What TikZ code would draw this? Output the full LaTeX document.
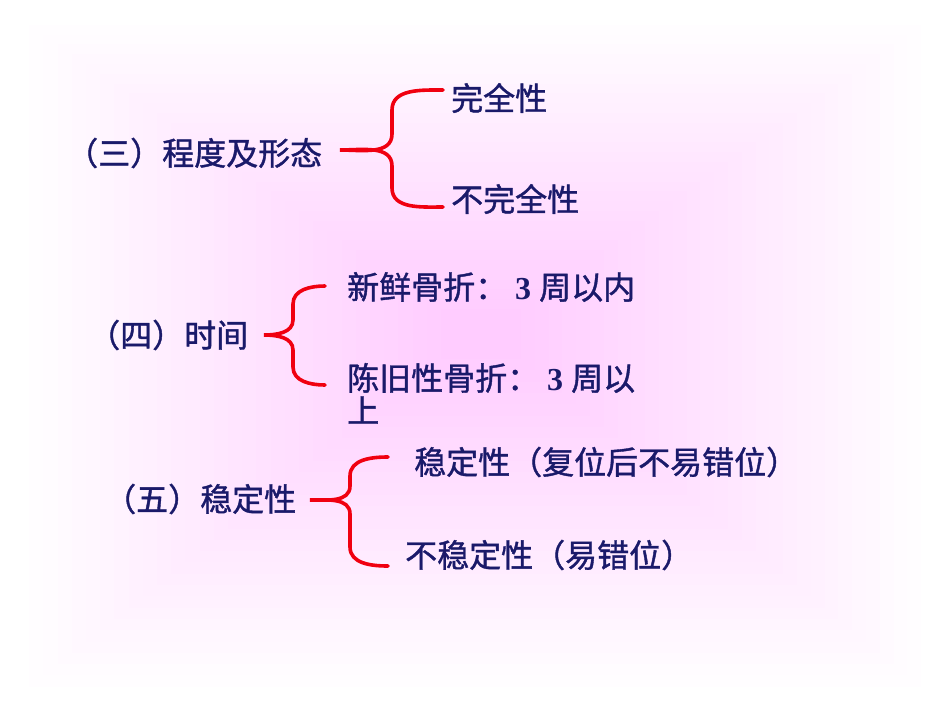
\documentclass[tikz,border=0pt]{standalone}
\usepackage{fontspec}
\newfontfamily\cjk[FakeBold=1.2]{Noto Sans CJK SC}
\newfontfamily\numf{Liberation Serif}
\definecolor{pinkc}{HTML}{FFCCFF}
\definecolor{navy}{HTML}{1A1A6A}
\definecolor{bracered}{HTML}{F00010}
\begin{document}
\begin{tikzpicture}[x=1pt,y=-1pt,
  lbl/.style={font=\cjk\fontsize{32}{34}\selectfont, text=navy, inner sep=0pt, anchor=west},
  brace/.style={draw=bracered, line width=3.6pt, line cap=round}]
\useasboundingbox (0,0) rectangle (950,713);
\fill[white] (0,0) rectangle (950,713);
\foreach \i in {0,...,30}{
  \pgfmathsetmacro{\pc}{\i/30*100}
  \fill[pinkc!\pc!white] ({15+\i*14.2},{15+\i*9.8}) rectangle ({935-\i*13.8},{698-\i*11.3});
}
% group 3
\node[lbl] (g3) at (66,153) {（三）程度及形态};
\node[lbl] (a1) at (451,98) {完全性};
\node[lbl] (a2) at (451,199) {不完全性};
\coordinate (t3) at (340,150);
\draw[brace] (443,90) to[out=180,in=90] (392,110) -- (392,134) to[out=-90,in=0] (t3)
  to[out=0,in=90] (392,166) -- (392,188) to[out=-90,in=180] (443,207);
% group 4
\node[lbl] (g4) at (88,335) {（四）时间};
\node[lbl] (b1) at (347,287) {新鲜骨折：{\numf\bfseries\ 3\ }周以内};
\node[lbl] (b2) at (347,378) {陈旧性骨折：{\numf\bfseries\ 3\ }周以};
\node[lbl] (b3) at (347,410) {上};
\coordinate (t4) at (264,335);
\draw[brace] (325,286) to[out=180,in=90] (293,304) -- (293,320) to[out=-90,in=0] (t4)
  to[out=0,in=90] (293,350) -- (293,367) to[out=-90,in=180] (325,385);
% group 5
\node[lbl] (g5) at (104,499) {（五）稳定性};
\node[lbl] (c1) at (414,462) {稳定性（复位后不易错位）};
\node[lbl] (c2) at (405,555) {不稳定性（易错位）};
\coordinate (t5) at (310,500);
\draw[brace] (388,457) to[out=180,in=90] (350,476) -- (350,486) to[out=-90,in=0] (t5)
  to[out=0,in=90] (350,514) -- (350,547) to[out=-90,in=180] (388,566);
\end{tikzpicture}
\end{document}
